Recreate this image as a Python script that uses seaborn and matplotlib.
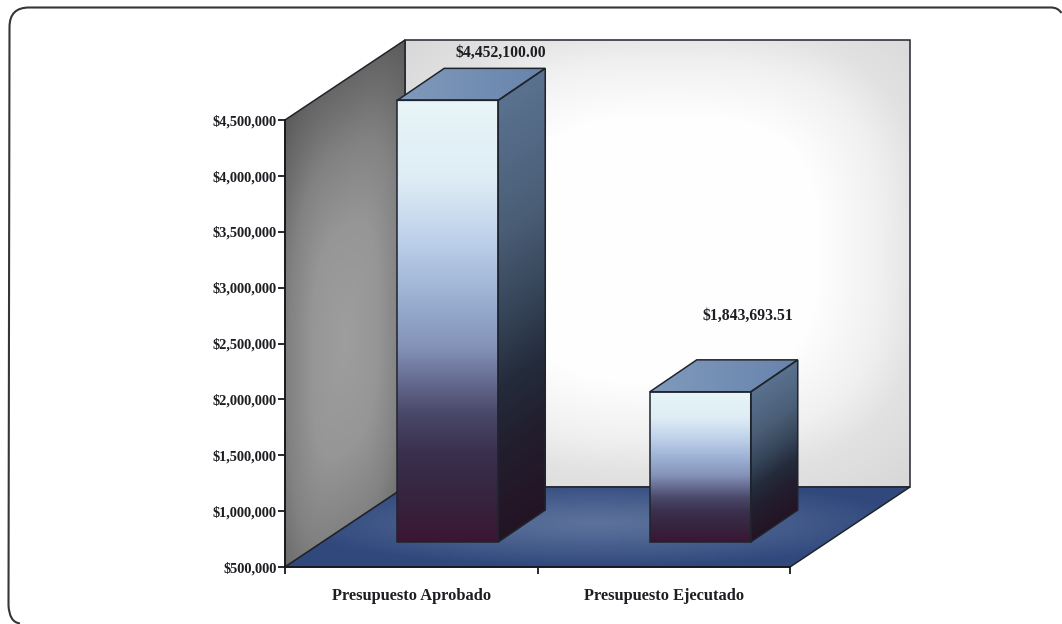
import numpy as np
import pandas as pd
import matplotlib
matplotlib.use("Agg")
import matplotlib.pyplot as plt
import seaborn as sns
from matplotlib.patches import Polygon, PathPatch
from matplotlib.path import Path
from matplotlib.transforms import IdentityTransform, Affine2D

# ---- data
categories = ["Presupuesto Aprobado", "Presupuesto Ejecutado"]
values = [4452100.00, 1843693.51]
value_labels = ["$4,452,100.00", "$1,843,693.51"]
y_ticks = [500000, 1000000, 1500000, 2000000, 2500000, 3000000, 3500000, 4000000, 4500000]
y_tick_labels = ["$500,000", "$1,000,000", "$1,500,000", "$2,000,000", "$2,500,000",
                 "$3,000,000", "$3,500,000", "$4,000,000", "$4,500,000"]

# ---- style (pixels)
W, H = 1062, 624
AX_L, AX_R, AX_B, AX_T = 285, 790, 567, 120
WALL_DX, WALL_DY = 120, 80          # depth of the chart box
BAR_SHIFT = (36.5, 25)              # bars stand this far inside the box
BAR_DX, BAR_DY = 47, 32             # depth of each bar
LABEL_OFFSETS = [(53, 47), (48, 76)]
INK = "#20242c"

FRONT = [(0, (232, 246, 249)), (.18, (222, 236, 245)), (.32, (188, 208, 234)), (.47, (150, 170, 206)),
         (.56, (132, 146, 184)), (.63, (104, 110, 148)), (.71, (74, 72, 104)), (.8, (58, 48, 78)),
         (.9, (54, 36, 62)), (1, (60, 22, 52))]
SIDE = [(0, (90, 114, 144)), (.3, (74, 94, 118)), (.5, (54, 68, 88)), (.65, (36, 44, 60)),
        (.8, (34, 30, 46)), (1, (36, 20, 36))]

sns.set_theme(style="white")
plt.rcParams["font.family"] = ["Liberation Serif", "DejaVu Serif"]
plt.rcParams["font.weight"] = "bold"

fig = plt.figure(figsize=(W / 100, H / 100), dpi=100, facecolor="white")
ax = fig.add_axes([AX_L / W, 1 - AX_B / H, (AX_R - AX_L) / W, (AX_B - AX_T) / H])
ax.patch.set_visible(False)

df = pd.DataFrame({"categoria": categories, "valor": values})
sns.barplot(data=df, x="categoria", y="valor", ax=ax, width=0.4, color="#8fa3c5",
            saturation=1, edgecolor=INK, linewidth=1.1, zorder=3)
ax.set_xlim(-0.5, 1.5)
ax.set_ylim(y_ticks[0], y_ticks[-1])
ax.autoscale(False)


def ramp(stops, t):
    pos = [s[0] for s in stops]
    return np.stack([np.interp(t, pos, [s[1][i] for s in stops]) for i in range(3)], axis=-1) / 255


def paint(verts, colour, z, edge=INK, lw=1.1):
    """Fill a polygon given in display pixels with a colour field colour(u, v, X, Y)."""
    verts = np.asarray(verts, float)
    x0, y0 = verts.min(axis=0)
    x1, y1 = verts.max(axis=0)
    nx, ny = max(int(x1 - x0), 2), max(int(y1 - y0), 2)
    u, v = np.meshgrid(np.linspace(0, 1, nx), np.linspace(0, 1, ny))
    X, Y = x0 + u * (x1 - x0), y1 - v * (y1 - y0)
    im = ax.imshow(colour(u, v, X, Y), extent=(x0, x1, y0, y1), origin="upper", aspect="auto",
                   transform=IdentityTransform(), interpolation="bilinear", zorder=z)
    clip = Polygon(verts, closed=True, transform=IdentityTransform())
    im.set_clip_path(clip)
    im.set_clip_box(fig.bbox)
    if edge:
        ax.add_patch(Polygon(verts, closed=True, fc="none", ec=edge, lw=lw, zorder=z + 0.1,
                             transform=IdentityTransform(), clip_on=False))


# ---- chart box built from the axis limits
(bl_x, bl_y) = ax.transData.transform((-0.5, y_ticks[0]))
(tl_x, tl_y) = ax.transData.transform((-0.5, y_ticks[-1]))
(br_x, br_y) = ax.transData.transform((1.5, y_ticks[0]))


def soft(a, b, p=3.0):
    return (np.abs(a) ** p + np.abs(b) ** p) ** (1 / p)


def back_wall(u, v, X, Y):
    d = np.clip(soft((u - 0.52) / 0.5, (v - 0.47) / 0.5), 0, 1.25)
    g = np.interp(d, [0, .6, .85, 1, 1.25], [255, 254, 240, 226, 216])
    return np.repeat((g / 255)[..., None], 3, axis=-1)


def left_wall(u, v, X, Y):
    vv = (bl_y + (X - bl_x) * (WALL_DY / WALL_DX) + (tl_y - bl_y) * 0.42 - Y) / ((tl_y - bl_y) * 0.5)
    d = np.clip(soft((u - 0.5) / 0.55, vv), 0, 1.3)
    g = np.interp(d, [0, .5, .85, 1.05, 1.3], [158, 150, 130, 112, 92])
    return np.repeat((g / 255)[..., None], 3, axis=-1)


def floor(u, v, X, Y):
    t = np.clip(np.hypot((u - 0.5) / 0.5, (v - 0.45) / 0.55), 0, 1)
    c0, c1 = np.array([92, 114, 156]), np.array([48, 72, 124])
    return (c0 + (c1 - c0) * t[..., None] ** 1.2) / 255


paint([(tl_x + WALL_DX, tl_y + WALL_DY), (br_x + WALL_DX, tl_y + WALL_DY),
       (br_x + WALL_DX, br_y + WALL_DY), (bl_x + WALL_DX, bl_y + WALL_DY)], back_wall, 0.5)
paint([(bl_x, bl_y), (tl_x, tl_y), (tl_x + WALL_DX, tl_y + WALL_DY), (bl_x + WALL_DX, bl_y + WALL_DY)],
      left_wall, 0.6)
paint([(bl_x, bl_y), (bl_x + WALL_DX, bl_y + WALL_DY), (br_x + WALL_DX, br_y + WALL_DY), (br_x, br_y)],
      floor, 0.7)

# ---- bars: seaborn rectangles pushed into the box, shaded as prisms
shift = ax.transData + Affine2D().translate(BAR_SHIFT[0], BAR_SHIFT[1])
for i, (bar, val) in enumerate(zip(ax.patches, values)):
    bar.set_y(y_ticks[0])
    bar.set_height(val - y_ticks[0])
    bar.set_transform(shift)
    bar.set_clip_on(False)
    bar.set_facecolor("none")
    bar.set_zorder(3)
    x0, y0 = shift.transform((bar.get_x(), y_ticks[0]))
    x1, y1 = shift.transform((bar.get_x() + bar.get_width(), val))
    h = y1 - y0

    paint([(x0, y0), (x1, y0), (x1, y1), (x0, y1)],
          lambda u, v, X, Y, stops=FRONT, y_t=y1, hh=h: ramp(stops, np.clip((y_t - Y) / hh, 0, 1)), 2, edge=None)
    paint([(x1, y0), (x1 + BAR_DX, y0 + BAR_DY), (x1 + BAR_DX, y1 + BAR_DY), (x1, y1)],
          lambda u, v, X, Y, stops=SIDE, y_t=y1, hh=h, xs=x1:
          ramp(stops, np.clip((y_t - (Y - (X - xs) * BAR_DY / BAR_DX)) / hh, 0, 1)), 2)
    paint([(x0, y1), (x1, y1), (x1 + BAR_DX, y1 + BAR_DY), (x0 + BAR_DX, y1 + BAR_DY)],
          lambda u, v, X, Y: (np.array([128, 154, 188]) + (np.array([104, 132, 172]) - np.array([128, 154, 188]))
                              * u[..., None]) / 255, 2)

    ax.annotate(value_labels[i], xy=(i, val), xycoords=shift,
                xytext=LABEL_OFFSETS[i], textcoords="offset pixels",
                ha="center", va="center", fontsize=11.3, fontweight="bold", color="#1d1d22",
                annotation_clip=False, zorder=6)

# ---- axes
for side in ("top", "right"):
    ax.spines[side].set_visible(False)
for side in ("left", "bottom"):
    ax.spines[side].set_visible(True)
    ax.spines[side].set_color("#15181c")
    ax.spines[side].set_linewidth(1.3)
    ax.spines[side].set_zorder(5)
ax.set_xlabel("")
ax.set_ylabel("")
ax.set_yticks(y_ticks)
ax.set_yticklabels(y_tick_labels, fontsize=10.4, fontweight="bold", color="#1d1d22")
ax.set_xticks([0, 1])
ax.set_xticklabels(categories, fontsize=11.8, fontweight="bold", color="#1d1d22")
ax.set_xticks([-0.5, 0.5, 1.5], minor=True)
ax.tick_params(axis="x", which="major", length=0, pad=15)
ax.tick_params(axis="x", which="minor", length=5, width=1.3, color="#15181c", bottom=True)
ax.tick_params(axis="y", which="major", length=5, width=1.3, color="#15181c", pad=1, left=True)

# ---- outer frame: open rounded outline, running off the right and bottom edges
frame_pts = [(1061.5, 13), (1058, 7.5), (1051, 7.5), (29, 7.5), (9.5, 7.5), (9.5, 27),
             (8.5, 605), (9, 622), (20, 623.5)]
frame_codes = [Path.MOVETO, Path.CURVE3, Path.CURVE3, Path.LINETO, Path.CURVE3, Path.CURVE3,
               Path.LINETO, Path.CURVE3, Path.CURVE3]
fig.add_artist(PathPatch(Path([(x, H - y) for x, y in frame_pts], frame_codes), fc="none", ec="#34363a",
                         lw=1.5, transform=IdentityTransform()))

fig.savefig("out.png", dpi=100, facecolor="white")
